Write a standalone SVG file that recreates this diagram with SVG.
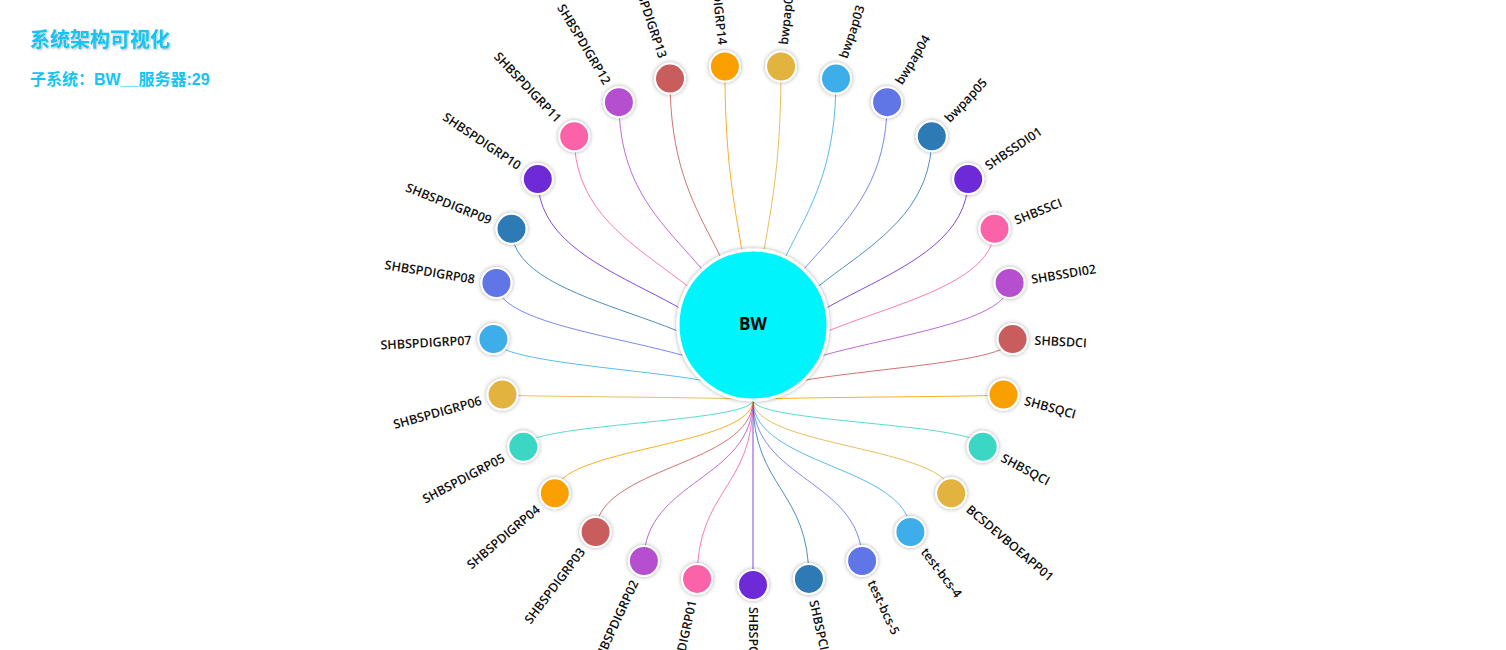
<svg xmlns="http://www.w3.org/2000/svg" width="1506" height="650" viewBox="0 0 1506 650">
<defs>
<filter id="sh" x="-50%" y="-50%" width="200%" height="200%"><feDropShadow dx="0" dy="0" stdDeviation="2" flood-color="#000" flood-opacity="0.35"/></filter>
<filter id="tsh" x="-10%" y="-30%" width="120%" height="160%"><feDropShadow dx="1" dy="1" stdDeviation="1" flood-color="#000" flood-opacity="0.3"/></filter>
</defs>
<style>
.n circle{stroke:#fff;stroke-width:2;filter:url(#sh)}
.n text{font-family:"Open Sans","Noto Sans",sans-serif;font-size:12.5px;font-weight:600;fill:#111}
.lk path{fill:none;stroke-width:1;opacity:.85}
.t{font-family:"Liberation Sans","Noto Sans CJK SC",sans-serif;font-weight:bold;fill:#12c5f2}
</style>
<rect width="1506" height="650" fill="#fff"/>
<text class="t" x="30" y="47" font-size="20" filter="url(#tsh)">系统架构可视化</text>
<text class="t" x="30" y="85" font-size="16" fill="#0cc8f4">子系统：BW__服务器:29</text>
<g id="links" class="lk">
<path d="M753 400C753 233 781 233 781 66.5" stroke="#e3b341"/>
<path d="M753 400C753 239 836 239 836 78.6" stroke="#3daee9"/>
<path d="M753 400C753 251 887 251 887.1 102.2" stroke="#6174e6"/>
<path d="M753 400C753 268 932 268 931.8 136.3" stroke="#2f7ab5"/>
<path d="M753 400C753 290 968 290 968.2 179.1" stroke="#6e29d6"/>
<path d="M753 400C753 314 994 314 994.5 228.8" stroke="#fb63a8"/>
<path d="M753 400C753 341 1010 341 1009.6 283" stroke="#b54fd0"/>
<path d="M753 400C753 370 1013 370 1012.6 339.1" stroke="#c95b5b"/>
<path d="M753 400C753 397 1003 397 1003.5 394.6" stroke="#f9a000"/>
<path d="M753 400C753 423 983 423 982.7 446.8" stroke="#3ad6c4"/>
<path d="M753 400C753 447 951 447 951.2 493.3" stroke="#e3b341"/>
<path d="M753 400C753 466 910 466 910.4 532" stroke="#3daee9"/>
<path d="M753 400C753 480 862 480 862.1 561" stroke="#6174e6"/>
<path d="M753 400C753 489 809 489 808.9 578.9" stroke="#2f7ab5"/>
<path d="M753 400L753 585" stroke="#6e29d6"/>
<path d="M753 400C753 489 697 489 697.1 578.9" stroke="#fb63a8"/>
<path d="M753 400C753 480 644 480 643.9 561" stroke="#b54fd0"/>
<path d="M753 400C753 466 596 466 595.6 532" stroke="#c95b5b"/>
<path d="M753 400C753 447 555 447 554.8 493.3" stroke="#f9a000"/>
<path d="M753 400C753 423 523 423 523.3 446.8" stroke="#3ad6c4"/>
<path d="M753 400C753 397 502 397 502.5 394.6" stroke="#e3b341"/>
<path d="M753 400C753 370 493 370 493.4 339.1" stroke="#3daee9"/>
<path d="M753 400C753 341 496 341 496.4 283" stroke="#6174e6"/>
<path d="M753 400C753 314 511 314 511.5 228.8" stroke="#2f7ab5"/>
<path d="M753 400C753 290 538 290 537.8 179.1" stroke="#6e29d6"/>
<path d="M753 400C753 268 574 268 574.2 136.3" stroke="#fb63a8"/>
<path d="M753 400C753 251 619 251 618.9 102.2" stroke="#b54fd0"/>
<path d="M753 400C753 239 670 239 670 78.6" stroke="#c95b5b"/>
<path d="M753 400C753 233 725 233 724.9 66.5" stroke="#f9a000"/>
</g>
<g id="BW"><circle cx="753" cy="325" r="75" fill="#00f4fc" stroke="#fff" stroke-width="3" filter="url(#sh)"/><text x="753" y="330" text-anchor="middle" font-family="'Open Sans',sans-serif" font-size="17" font-weight="bold" fill="#000">BW</text></g>
<g id="n0" class="n" transform="translate(781.1,66.5)"><circle r="15" fill="#e3b341"/><text transform="rotate(-83.79)" x="22" dy=".35em">bwpap02</text></g>
<g id="n1" class="n" transform="translate(836,78.6)"><circle r="15" fill="#3daee9"/><text transform="rotate(-71.38)" x="22" dy=".35em">bwpap03</text></g>
<g id="n2" class="n" transform="translate(887.1,102.2)"><circle r="15" fill="#6174e6"/><text transform="rotate(-58.96)" x="22" dy=".35em">bwpap04</text></g>
<g id="n3" class="n" transform="translate(931.8,136.3)"><circle r="15" fill="#2f7ab5"/><text transform="rotate(-46.55)" x="22" dy=".35em">bwpap05</text></g>
<g id="n4" class="n" transform="translate(968.2,179.1)"><circle r="15" fill="#6e29d6"/><text transform="rotate(-34.13)" x="22" dy=".35em">SHBSSDI01</text></g>
<g id="n5" class="n" transform="translate(994.5,228.8)"><circle r="15" fill="#fb63a8"/><text transform="rotate(-21.72)" x="22" dy=".35em">SHBSSCI</text></g>
<g id="n6" class="n" transform="translate(1009.6,283)"><circle r="15" fill="#b54fd0"/><text transform="rotate(-9.31)" x="22" dy=".35em">SHBSSDI02</text></g>
<g id="n7" class="n" transform="translate(1012.6,339.1)"><circle r="15" fill="#c95b5b"/><text transform="rotate(3.1)" x="22" dy=".35em">SHBSDCI</text></g>
<g id="n8" class="n" transform="translate(1003.5,394.6)"><circle r="15" fill="#f9a000"/><text transform="rotate(15.52)" x="22" dy=".35em">SHBSQCI</text></g>
<g id="n9" class="n" transform="translate(982.7,446.8)"><circle r="15" fill="#3ad6c4"/><text transform="rotate(27.93)" x="22" dy=".35em">SHBSQCI</text></g>
<g id="n10" class="n" transform="translate(951.2,493.3)"><circle r="15" fill="#e3b341"/><text transform="rotate(40.35)" x="22" dy=".35em">BCSDEVBOEAPP01</text></g>
<g id="n11" class="n" transform="translate(910.4,532)"><circle r="15" fill="#3daee9"/><text transform="rotate(52.76)" x="22" dy=".35em">test-bcs-4</text></g>
<g id="n12" class="n" transform="translate(862.1,561)"><circle r="15" fill="#6174e6"/><text transform="rotate(65.18)" x="22" dy=".35em">test-bcs-5</text></g>
<g id="n13" class="n" transform="translate(808.9,578.9)"><circle r="15" fill="#2f7ab5"/><text transform="rotate(77.59)" x="22" dy=".35em">SHBSPCI01</text></g>
<g id="n14" class="n" transform="translate(753,585)"><circle r="15" fill="#6e29d6"/><text transform="rotate(90)" x="22" dy=".35em">SHBSPCI02</text></g>
<g id="n15" class="n" transform="translate(697.1,578.9)"><circle r="15" fill="#fb63a8"/><text transform="rotate(-77.59)" x="-22" dy=".35em" text-anchor="end">SHBSPDIGRP01</text></g>
<g id="n16" class="n" transform="translate(643.9,561)"><circle r="15" fill="#b54fd0"/><text transform="rotate(-65.18)" x="-22" dy=".35em" text-anchor="end">SHBSPDIGRP02</text></g>
<g id="n17" class="n" transform="translate(595.6,532)"><circle r="15" fill="#c95b5b"/><text transform="rotate(-52.76)" x="-22" dy=".35em" text-anchor="end">SHBSPDIGRP03</text></g>
<g id="n18" class="n" transform="translate(554.8,493.3)"><circle r="15" fill="#f9a000"/><text transform="rotate(-40.35)" x="-22" dy=".35em" text-anchor="end">SHBSPDIGRP04</text></g>
<g id="n19" class="n" transform="translate(523.3,446.8)"><circle r="15" fill="#3ad6c4"/><text transform="rotate(-27.93)" x="-22" dy=".35em" text-anchor="end">SHBSPDIGRP05</text></g>
<g id="n20" class="n" transform="translate(502.5,394.6)"><circle r="15" fill="#e3b341"/><text transform="rotate(-15.52)" x="-22" dy=".35em" text-anchor="end">SHBSPDIGRP06</text></g>
<g id="n21" class="n" transform="translate(493.4,339.1)"><circle r="15" fill="#3daee9"/><text transform="rotate(-3.1)" x="-22" dy=".35em" text-anchor="end">SHBSPDIGRP07</text></g>
<g id="n22" class="n" transform="translate(496.4,283)"><circle r="15" fill="#6174e6"/><text transform="rotate(9.31)" x="-22" dy=".35em" text-anchor="end">SHBSPDIGRP08</text></g>
<g id="n23" class="n" transform="translate(511.5,228.8)"><circle r="15" fill="#2f7ab5"/><text transform="rotate(21.72)" x="-22" dy=".35em" text-anchor="end">SHBSPDIGRP09</text></g>
<g id="n24" class="n" transform="translate(537.8,179.1)"><circle r="15" fill="#6e29d6"/><text transform="rotate(34.13)" x="-22" dy=".35em" text-anchor="end">SHBSPDIGRP10</text></g>
<g id="n25" class="n" transform="translate(574.2,136.3)"><circle r="15" fill="#fb63a8"/><text transform="rotate(46.55)" x="-22" dy=".35em" text-anchor="end">SHBSPDIGRP11</text></g>
<g id="n26" class="n" transform="translate(618.9,102.2)"><circle r="15" fill="#b54fd0"/><text transform="rotate(58.96)" x="-22" dy=".35em" text-anchor="end">SHBSPDIGRP12</text></g>
<g id="n27" class="n" transform="translate(670,78.6)"><circle r="15" fill="#c95b5b"/><text transform="rotate(71.38)" x="-22" dy=".35em" text-anchor="end">SHBSPDIGRP13</text></g>
<g id="n28" class="n" transform="translate(724.9,66.5)"><circle r="15" fill="#f9a000"/><text transform="rotate(83.79)" x="-22" dy=".35em" text-anchor="end">SHBSPDIGRP14</text></g>
</svg>
